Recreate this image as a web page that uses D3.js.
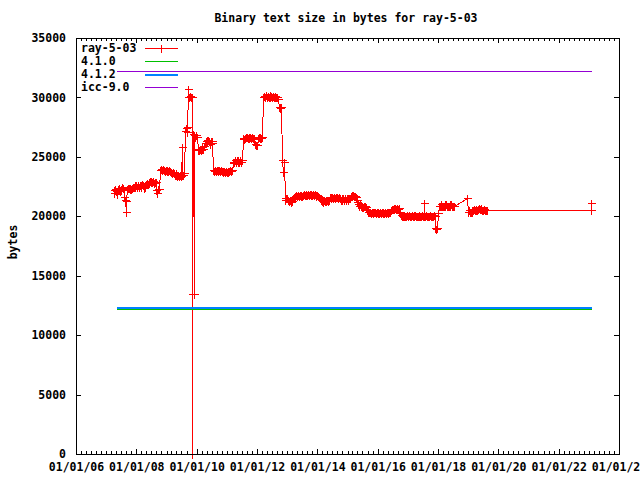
<!DOCTYPE html>
<html>
<head>
<meta charset="utf-8">
<script src="https://cdn.jsdelivr.net/npm/d3@7"></script>
<style>
  body { margin: 0; background: #fff; }
  svg { display: block; }
  text { font-family: "DejaVu Sans Mono", monospace; font-weight: bold; font-size: 11.5px; fill: #000; }
</style>
</head>
<body>
<svg id="chart" width="640" height="480"></svg>
<script>
// ray-5-03 builds, read per month: [month, bytes on day 1, day 11, day 21]
const ray2007 = [
    [4, 22200, 22000, 22300], [5, 22100, 21900, 22300], [6, 22400, 22200, 22100],
    [7, 22300, 22500, 22400], [8, 22200, 21600, 21400], [9, 21300, 22300, 22400],
    [10, 22400, 22300, 22400], [11, 22300, 22400, 22500], [12, 22500, 22600, 22500]
];
const ray2008 = [
    [1, 22600, 22500, 22600], [2, 22500, 22600, 22500], [3, 22600, 22700, 22600],
    [4, 22400, 22500, 22600], [5, 22700, 22800, 22700], [6, 22900, 23000, 22900],
    [7, 23000, 22900, 23000], [8, 22800, 22900, 22900], [9, 22200, 22000, 22300],
    [10, 22300, 23900, 24000], [11, 24000, 23900, 24000], [12, 23900, 23800, 23900]
];
const ray2009 = [
    [1, 23800, 23900, 23800], [2, 23900, 23800, 23700], [3, 23700, 23600, 23700],
    [4, 23600, 23500, 23600], [5, 23500, 23400, 23500], [6, 23400, 23500, 23400],
    [7, 23400, 23500, 23500], [8, 23600, 27200, 27400], [9, 27500, 27100, 30000],
    [10, 30000, 30100, 30000], [11, 30000, 13500, 26900], [12, 26800, 26700, 26800]
];
const ray2010 = [
    [1, 26700, 25700, 25600], [2, 25600, 25700, 25600], [3, 25700, 25800, 25700],
    [4, 25900, 26200, 26300], [5, 26400, 26300, 26400], [6, 26300, 26100, 26300],
    [7, 26300, 26200, 23900], [8, 23800, 23900, 23800], [9, 23900, 23800, 23900],
    [10, 23900, 23800, 23900], [11, 23800, 23700, 23800], [12, 23800, 23700, 23800]
];
const ray2011 = [
    [1, 23700, 23800, 23700], [2, 23800, 23900, 23800], [3, 23900, 24500, 24600],
    [4, 24600, 24700, 24600], [5, 24700, 24600, 24700], [6, 24600, 24700, 24600],
    [7, 24700, 26500, 26600], [8, 26500, 26600, 26700], [9, 26700, 26600, 26700],
    [10, 26600, 26700, 26600], [11, 26700, 26600, 26500], [12, 26600, 26100, 26000]
];
const ray2012 = [
    [1, 26000, 26600, 26700], [2, 26600, 26700, 26600], [3, 26700, 30000, 30100],
    [4, 30100, 30000, 30200], [5, 30000, 30100, 30000], [6, 30200, 30000, 30100],
    [7, 30000, 30100, 30000], [8, 30100, 30000, 30000], [9, 30000, 29900, 29200],
    [10, 29200, 29100, 29200], [11, 24700, 23700, 24600], [12, 21500, 21400, 21500]
];
const ray2013 = [
    [1, 21500, 21400, 21300], [2, 21400, 21300, 21200], [3, 21300, 21500, 21600],
    [4, 21500, 21700, 21800], [5, 21700, 21800, 21700], [6, 21800, 21700, 21800],
    [7, 21700, 21800, 21900], [8, 21800, 21900, 21800], [9, 21800, 21900, 21800],
    [10, 21900, 21800, 21900], [11, 21800, 21900, 21800], [12, 21900, 21800, 21700]
];
const ray2014 = [
    [1, 21800, 21700, 21600], [2, 21500, 21400, 21300], [3, 21300, 21200, 21400],
    [4, 21300, 21400, 21300], [5, 21400, 21300, 21400], [6, 21600, 21500, 21600],
    [7, 21600, 21500, 21600], [8, 21500, 21600, 21600], [9, 21600, 21500, 21600],
    [10, 21500, 21400, 21500], [11, 21400, 21500, 21400], [12, 21500, 21400, 21500]
];
const ray2015 = [
    [1, 21500, 21400, 21500], [2, 21500, 21700, 21800], [3, 21700, 21800, 21700],
    [4, 21700, 21600, 21400], [5, 21200, 21000, 20900], [6, 21000, 20900, 20800],
    [7, 20900, 20800, 20900], [8, 20900, 20800, 20500], [9, 20500, 20400, 20400],
    [10, 20400, 20300, 20400], [11, 20400, 20300, 20400], [12, 20400, 20300, 20400]
];
const ray2016 = [
    [1, 20300, 20400, 20300], [2, 20400, 20300, 20400], [3, 20300, 20400, 20300],
    [4, 20400, 20300, 20400], [5, 20400, 20300, 20400], [6, 20400, 20500, 20600],
    [7, 20600, 20700, 20600], [8, 20700, 20600, 20700], [9, 20600, 20700, 20400],
    [10, 20300, 20100, 20000], [11, 20000, 20100, 20000], [12, 20000, 20000, 20100]
];
const ray2017 = [
    [1, 20000, 20100, 20000], [2, 20000, 20000, 20100], [3, 20000, 20100, 20000],
    [4, 20100, 20000, 20000], [5, 20000, 20100, 20000], [6, 20000, 20000, 20100],
    [7, 20000, 20000, 20100], [8, 20000, 20100, 20000], [9, 20000, 20000, 20100],
    [10, 20100, 20000, 20000], [11, 20000, 20100, 20000], [12, 19000, 18900, 19000]
];
const ray2018 = [
    [1, 20300, 20900, 20900], [2, 20900, 21000, 20900], [3, 20900, 20900, 21000],
    [4, 20900, 21000, 20900], [5, 20900, 20900, 21000], [6, 20900, 21000, 20900],
    [7, 20900, 20900]
];
const ray2019 = [
    [1, 20400, 20500, 20400], [2, 20400, 20500, 20400], [3, 20500, 20600, 20500],
    [4, 20500, 20600, 20500], [5, 20600, 20700, 20600], [6, 20700, 20600, 20500],
    [7, 20500, 20600, 20500], [8, 20500, 20500, 20500]
];
const rayYears = [2007, 2008, 2009, 2010, 2011, 2012, 2013, 2014, 2015, 2016, 2017, 2018, 2019];
const rayMonthly = [ray2007, ray2008, ray2009, ray2010, ray2011, ray2012, ray2013,
    ray2014, ray2015, ray2016, ray2017, ray2018, ray2019];
const sampleDays = [1, 11, 21];

// single builds that stand out
const rayExtra = [
    ['2007-08-25', 20400], ['2009-07-05', 25800], ['2009-09-15', 30700],
    ['2009-11-11', 0], ['2009-11-11', 13500], ['2009-11-25', 13500],
    ['2017-07-15', 21100], ['2018-12-20', 21500],
    ['2023-01-25', 20500], ['2023-01-28', 21100]
];

// reference compilers: flat lines
const refDates = ['2007-05-01', '2023-02-01'];
const refSeries = [
    { name: '4.1.0', value: 12157, color: '#00c000', width: 1 },
    { name: '4.1.2', value: 12283, color: '#0080ff', width: 2 },
    { name: 'icc-9.0', value: 32170, color: '#9400d3', width: 1 }
];

const yTicks = [0, 5000, 10000, 15000, 20000, 25000, 30000, 35000];
const xTickYears = [2006, 2008, 2010, 2012, 2014, 2016, 2018, 2020, 2022, 2024];

const parse = d3.timeParse('%Y-%m-%d');
const svg = d3.select('#chart');

const plotLeft = 76, plotRight = 619, plotTop = 38, plotBottom = 454;

const x = d3.scaleTime()
    .domain([new Date(2006, 0, 1), new Date(2024, 0, 1)])
    .range([plotLeft, plotRight]);
const y = d3.scaleLinear()
    .domain([0, 35000])
    .range([plotBottom, plotTop]);

const px = v => Math.round(v) + 0.5;
const snap = (v, w) => (w % 2 ? Math.floor(v) + 0.5 : Math.round(v));

// title + y label
svg.append('text')
    .attr('x', 346)
    .attr('y', 22)
    .attr('text-anchor', 'middle')
    .text('Binary text size in bytes for ray-5-03');

svg.append('text')
    .attr('transform', 'translate(17,242) rotate(-90)')
    .attr('text-anchor', 'middle')
    .text('bytes');

// axes
const xMajor = xTickYears.map(yr => new Date(yr, 0, 1));
const xMinor = d3.timeMonth.every(2).range(new Date(2006, 0, 1), new Date(2024, 0, 2));

const gAxes = svg.append('g').attr('shape-rendering', 'crispEdges');

gAxes.append('g')
    .attr('transform', `translate(0,${plotBottom})`)
    .call(d3.axisBottom(x).tickValues(xMinor).tickSize(-3).tickFormat(''));
gAxes.append('g')
    .attr('transform', `translate(0,${plotTop})`)
    .call(d3.axisTop(x).tickValues(xMinor).tickSize(-3).tickFormat(''));
gAxes.append('g')
    .attr('transform', `translate(0,${plotBottom})`)
    .call(d3.axisBottom(x).tickValues(xMajor).tickSize(-5).tickPadding(9)
        .tickFormat(d3.timeFormat('%m/%d/%y')));
gAxes.append('g')
    .attr('transform', `translate(0,${plotTop})`)
    .call(d3.axisTop(x).tickValues(xMajor).tickSize(-5).tickFormat(''));
gAxes.append('g')
    .attr('transform', `translate(${plotLeft},0)`)
    .call(d3.axisLeft(y).tickValues(yTicks).tickSize(-5).tickPadding(10).tickFormat(d3.format('d')));
gAxes.append('g')
    .attr('transform', `translate(${plotRight},0)`)
    .call(d3.axisRight(y).tickValues(yTicks).tickSize(-5).tickFormat(''));

gAxes.selectAll('.domain').remove();
gAxes.selectAll('.tick line').attr('stroke', '#000');
gAxes.selectAll('.tick text').attr('fill', '#000');
gAxes.selectAll('g').attr('font-family', null).attr('font-size', null);

// build the ray-5-03 series
const rayData = [];
rayYears.forEach((yr, i) => {
    rayMonthly[i].forEach(row => {
        row.slice(1).forEach((v, k) => {
            rayData.push({ date: new Date(yr, row[0] - 1, sampleDays[k]), bytes: v });
        });
    });
});
rayExtra.forEach(d => rayData.push({ date: parse(d[0]), bytes: d[1] }));
rayData.sort((a, b) => a.date - b.date);

// data
const plot = svg.append('g').attr('shape-rendering', 'crispEdges');

const rayPts = rayData.map(d => [x(d.date), y(d.bytes)]);

plot.append('path')
    .attr('d', d3.line().x(d => px(d[0])).y(d => px(d[1]))(rayPts))
    .attr('fill', 'none')
    .attr('stroke', '#ff0000')
    .attr('stroke-width', 1);

const cross = 'M-4,0H4M0,-4V4';
plot.selectAll('path.pt')
    .data(rayPts)
    .join('path')
    .attr('class', 'pt')
    .attr('transform', d => `translate(${px(d[0])},${px(d[1])})`)
    .attr('d', cross)
    .attr('stroke', '#ff0000')
    .attr('fill', 'none');

refSeries.forEach(s => {
    const yy = snap(y(s.value), s.width);
    plot.append('line')
        .attr('x1', px(x(parse(refDates[0]))))
        .attr('x2', px(x(parse(refDates[1]))))
        .attr('y1', yy)
        .attr('y2', yy)
        .attr('stroke', s.color)
        .attr('stroke-width', s.width);
});

// legend
const legendNames = ['ray-5-03'].concat(refSeries.map(s => s.name));
const legendColors = ['#ff0000'].concat(refSeries.map(s => s.color));
const legendWidths = [1].concat(refSeries.map(s => s.width));
const lg = svg.append('g').attr('shape-rendering', 'crispEdges');
legendNames.forEach((name, i) => {
    const ly = 48 + i * 13;
    const w = legendWidths[i];
    lg.append('text')
        .attr('x', 81)
        .attr('y', ly + 4)
        .text(name);
    lg.append('line')
        .attr('x1', 145).attr('x2', 178)
        .attr('y1', w % 2 ? ly + 0.5 : ly + 1).attr('y2', w % 2 ? ly + 0.5 : ly + 1)
        .attr('stroke', legendColors[i])
        .attr('stroke-width', w);
    if (i === 0) {
        lg.append('path')
            .attr('transform', `translate(161.5,${ly + 0.5})`)
            .attr('d', cross)
            .attr('stroke', legendColors[i]);
    }
});

// border
svg.append('rect')
    .attr('x', plotLeft + 0.5)
    .attr('y', plotTop + 0.5)
    .attr('width', plotRight - plotLeft)
    .attr('height', plotBottom - plotTop)
    .attr('fill', 'none')
    .attr('stroke', '#000')
    .attr('shape-rendering', 'crispEdges');
</script>
</body>
</html>
